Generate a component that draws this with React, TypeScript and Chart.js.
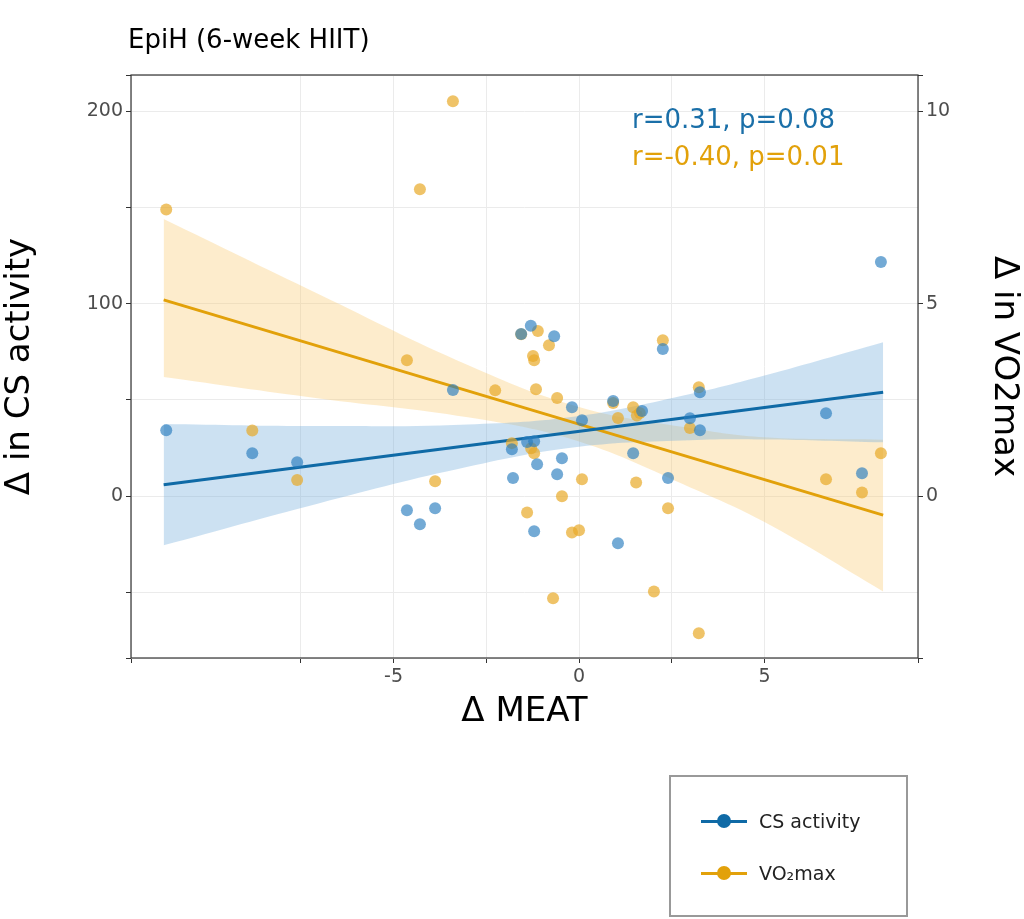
import React, { useEffect, useRef } from "react";
import { Chart, registerables } from "chart.js";
Chart.register(...registerables);

const csX = [-11.13,-8.81,-7.60,-4.64,-4.29,-3.88,-3.40,-1.81,-1.56,-1.30,-0.67,-0.19,0.08,0.92,1.70,2.26,2.99,3.26,3.26,1.46,2.40,-1.40,-1.21,-1.13,-0.46,-1.78,-0.59,-1.21,1.05,6.66,7.63,8.14];
const csY = [34.3,22.3,17.7,-7.3,-14.5,-6.2,55.1,24.4,84.2,88.5,83.1,46.2,39.5,49.4,44.2,76.4,40.5,54.0,34.3,22.3,9.4,28.1,28.6,16.6,19.7,9.4,11.4,-18.2,-24.4,43.1,11.9,121.6];
const voX = [-11.13,-8.81,-7.60,-4.64,-4.29,-3.88,-3.40,-2.26,-1.56,-1.11,-0.81,-1.24,-1.21,-1.16,-0.59,-1.81,-1.29,-1.21,0.08,-0.46,-1.40,-0.19,0.0,0.92,1.05,1.46,1.56,1.64,2.26,3.23,2.99,1.54,2.40,-0.70,2.02,3.23,6.66,7.63,8.14];
const voY = [7.45,1.71,0.42,3.53,7.97,0.39,10.26,2.75,4.21,4.29,3.92,3.64,3.53,2.78,2.55,1.38,1.25,1.12,0.44,0.0,-0.42,-0.94,-0.88,2.42,2.03,2.31,2.10,2.16,4.05,2.83,1.77,0.36,-0.31,-2.65,-2.47,-3.56,0.44,0.10,1.12];
const bandX = [-11.2,-7,-3,0,3,5,8.2];
const csFit = [6,16.4,26.3,33.7,41.1,46.1,54];
const csUp = [37.5,36.4,37.3,41.7,53.1,62.7,80];
const csLo = [-25.5,-3.6,15.3,25.7,29.1,29.5,28];
const voFit = [5.1,3.89,2.73,1.87,1.0,0.43,-0.49];
const voUp = [7.2,5.24,3.41,2.32,1.77,1.53,1.47];
const voLo = [3.1,2.54,2.05,1.42,0.23,-0.67,-2.47];

const pts = (xs: number[], ys: number[]) => xs.map((x, i) => ({ x, y: ys[i] }));
const FONT = "'DejaVu Sans', sans-serif";
const BLUE = "#0f6aa6", ORANGE = "#e2a10a";

export default function App() {
  const ref = useRef<HTMLCanvasElement>(null);
  useEffect(() => {
    const frame = {
      id: "frame",
      afterDraw(c: any) {
        const a = c.chartArea, ctx = c.ctx;
        ctx.save(); ctx.strokeStyle = "#333"; ctx.lineWidth = 1.2;
        ctx.strokeRect(a.left, a.top, a.right - a.left, a.bottom - a.top); ctx.restore();
      },
    };
    const line = (d: any, axis: string, color: string, fill: any, bg: string) => ({
      type: "line", data: d, yAxisID: axis, borderColor: color, backgroundColor: bg,
      borderWidth: color === "transparent" ? 0 : 3, pointRadius: 0, fill, tension: 0.4, order: 5,
    });
    const chart = new Chart(ref.current!, {
      type: "scatter",
      data: {
        datasets: [
          line(pts(bandX, csLo), "y", "transparent", false, "transparent"),
          line(pts(bandX, csUp), "y", "transparent", "-1", "rgba(120,175,220,0.38)"),
          line(pts(bandX, voLo), "y2", "transparent", false, "transparent"),
          line(pts(bandX, voUp), "y2", "transparent", "-1", "rgba(250,205,120,0.38)"),
          { type: "line", data: pts([bandX[0], bandX[6]], [csFit[0], csFit[6]]), yAxisID: "y", borderColor: BLUE, borderWidth: 3, pointRadius: 0, fill: false, order: 2 } as any,
          { type: "line", data: pts([bandX[0], bandX[6]], [voFit[0], voFit[6]]), yAxisID: "y2", borderColor: ORANGE, borderWidth: 3, pointRadius: 0, fill: false, order: 2 } as any,
          { data: pts(csX, csY), yAxisID: "y", pointRadius: 6, backgroundColor: "rgba(40,125,190,0.65)", borderWidth: 0, order: 1 },
          { data: pts(voX, voY), yAxisID: "y2", pointRadius: 6, backgroundColor: "rgba(232,170,40,0.7)", borderWidth: 0, order: 1 },
        ] as any,
      },
      options: {
        animation: false, responsive: false,
        layout: { padding: { top: 75, bottom: 180, left: 0, right: 0 } },
        plugins: { legend: { display: false }, tooltip: { enabled: false } },
        scales: {
          x: {
            type: "linear", min: -12.08, max: 9.14,
            afterFit: (s: any) => { s.height = 81; },
            ticks: { stepSize: 2.5, color: "#4d4d4d", font: { size: 19, family: FONT }, callback: (v: any) => (Math.abs(v % 5) < 1e-6 ? String(v) : ""), maxRotation: 0, autoSkip: false },
            grid: { color: "#ebebeb", drawTicks: true, tickColor: "#333", tickLength: 5 },
            border: { display: false },
            title: { display: true, text: "Δ MEAT", font: { size: 34, family: FONT }, color: "#000", padding: { top: 4, bottom: 6 } },
          },
          y: {
            position: "left", min: -84, max: 218.7,
            afterFit: (s: any) => { s.width = 131; },
            ticks: { stepSize: 50, color: "#4d4d4d", font: { size: 19, family: FONT }, callback: (v: any) => (Math.abs(v % 100) < 1e-6 ? String(v) : ""), autoSkip: false },
            grid: { color: "#ebebeb", tickColor: "#333", tickLength: 5 },
            border: { display: false },
            title: { display: true, text: "Δ in CS activity", font: { size: 34, family: FONT }, color: "#000", padding: { top: 0, bottom: 8 } },
          },
          y2: {
            position: "right", min: -4.2, max: 10.94,
            afterFit: (s: any) => { s.width = 106; },
            ticks: { stepSize: 5, color: "#4d4d4d", font: { size: 19, family: FONT }, autoSkip: false, callback: (v: any) => (Math.abs(v % 5) < 1e-6 ? String(v) : "") },
            grid: { display: true, drawOnChartArea: false, tickColor: "#333", tickLength: 5 },
            border: { display: false },
            title: { display: true, text: "Δ in VO2max", font: { size: 34, family: FONT }, color: "#000", padding: { top: 0, bottom: 6 } },
          },
        },
      } as any,
      plugins: [frame],
    });
    return () => chart.destroy();
  }, []);
  const abs = (s: any): React.CSSProperties => ({ position: "absolute", fontFamily: FONT, whiteSpace: "nowrap", ...s });
  return (
    <div style={{ position: "absolute", left: 0, top: 0, width: 1024, height: 919, background: "#fff" }}>
      <canvas ref={ref} width={1024} height={919} style={{ position: "absolute", left: 0, top: 0 }} />
      <div style={abs({ left: 128, top: 24, fontSize: 26, color: "#000" })}>EpiH (6-week HIIT)</div>
      <div style={abs({ left: 632, top: 104, fontSize: 26, color: "#1a6fa8" })}>r=0.31, p=0.08</div>
      <div style={abs({ left: 632, top: 141, fontSize: 26, color: ORANGE })}>r=-0.40, p=0.01</div>
      <div style={abs({ left: 669, top: 775, width: 235, height: 138, border: "2px solid #999" })}>
        {[["CS activity", BLUE, 44], ["VO₂max", ORANGE, 96]].map(([t, c, y]: any) => (
          <div key={t} style={abs({ left: 30, top: y - 14, fontSize: 19, color: "#222", display: "flex", alignItems: "center" })}>
            <span style={{ position: "relative", width: 46, height: 28, marginRight: 12 }}>
              <span style={{ position: "absolute", left: 0, top: 13, width: 46, height: 3, background: c }} />
              <span style={{ position: "absolute", left: 16, top: 7, width: 14, height: 14, borderRadius: 7, background: c }} />
            </span>
            {t}
          </div>
        ))}
      </div>
    </div>
  );
}
